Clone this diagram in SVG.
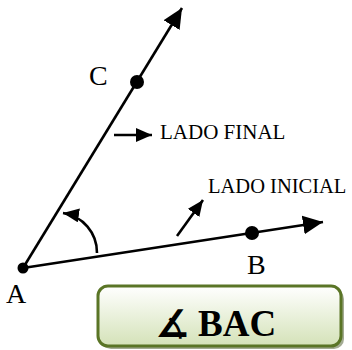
<svg xmlns="http://www.w3.org/2000/svg" width="352" height="350" viewBox="0 0 352 350">
<style>
.ln{stroke:#000;stroke-width:2.6;fill:none}
.lbl{font-family:"Liberation Serif","Times New Roman",serif;fill:#000}
.pt{fill:#000}
</style>
<defs>
<marker id="big" markerUnits="userSpaceOnUse" markerWidth="20" markerHeight="20" viewBox="0 0 17 16" refX="17" refY="8" orient="auto">
<path d="M0,0 L17,8 L0,16 Z" fill="#000"/>
</marker>
<marker id="sm" markerUnits="userSpaceOnUse" markerWidth="16" markerHeight="14" viewBox="0 0 16 14" refX="16" refY="7" orient="auto">
<path d="M0,0 L16,7 L0,14 Z" fill="#000"/>
</marker>
<linearGradient id="bg" x1="0" y1="0" x2="0" y2="1">
<stop offset="0" stop-color="#ffffff"/>
<stop offset="1" stop-color="#d4e2b8"/>
</linearGradient>
</defs>
<g id="connectors">
<line class="ln" x1="23" y1="268" x2="182" y2="8" marker-end="url(#big)"/>
<line class="ln" x1="23" y1="268" x2="323" y2="222" marker-end="url(#big)"/>
<path class="ln" d="M97,253 A40,40 0 0 0 63,213" marker-end="url(#sm)"/>
<line class="ln" x1="114" y1="135" x2="152" y2="135" marker-end="url(#sm)"/>
<line class="ln" x1="177" y1="236" x2="203" y2="200" marker-end="url(#sm)"/>
</g>
<g id="A">
<circle class="pt" cx="23" cy="268" r="5.5"/>
<text class="lbl" x="6" y="303" font-size="28">A</text>
</g>
<g id="B">
<circle class="pt" cx="252" cy="233" r="7"/>
<text class="lbl" x="247" y="274" font-size="28">B</text>
</g>
<g id="C">
<circle class="pt" cx="137" cy="82" r="7"/>
<text class="lbl" x="89" y="85" font-size="28">C</text>
</g>
<g id="ladoFinal">
<text class="lbl" x="160" y="139" font-size="21">LADO FINAL</text>
</g>
<g id="ladoInicial">
<text class="lbl" x="208" y="193" font-size="20.5">LADO INICIAL</text>
</g>
<g id="box">
<rect x="101" y="289" width="243" height="60" rx="10" fill="#a3ab93"/>
<rect x="98" y="286" width="243" height="60" rx="10" fill="url(#bg)" stroke="#5a7526" stroke-width="3"/>
<text x="155" y="337" font-family="'DejaVu Sans',sans-serif" font-size="38" font-weight="bold" fill="#000">∡</text>
<text class="lbl" x="198" y="336" font-size="37" font-weight="bold">BAC</text>
</g>
</svg>
